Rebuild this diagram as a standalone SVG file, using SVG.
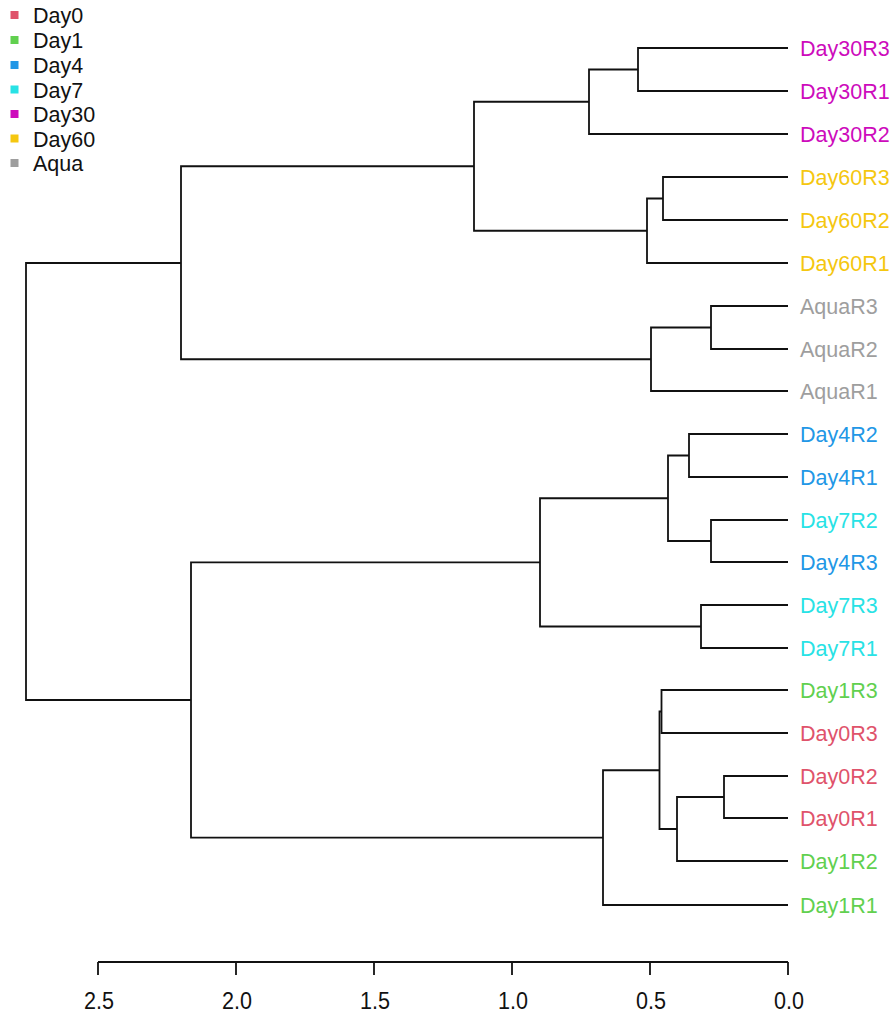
<svg xmlns="http://www.w3.org/2000/svg" width="893" height="1019" viewBox="0 0 893 1019">
<style>
.lbl{font-family:"Liberation Sans",Arial,sans-serif;font-size:21.5px}
.leg{font-family:"Liberation Sans",Arial,sans-serif;font-size:21.5px;fill:#111}
.ax{font-family:"Liberation Sans",Arial,sans-serif;font-size:24px;fill:#111;text-anchor:middle}
.br{fill:none;stroke:#111;stroke-width:1.8}
.d0{fill:#DF536B}.d1{fill:#61D04F}.d4{fill:#2297E6}.d7{fill:#28E2E5}.d30{fill:#CD0BBC}.d60{fill:#F5C710}.aq{fill:#9E9E9E}
</style>
<rect width="893" height="1019" fill="#fff"/>
<g id="legend">
<rect x="10.5" y="11" width="8" height="8" class="d0"/><text x="33" y="23" class="leg">Day0</text>
<rect x="10.5" y="36" width="8" height="8" class="d1"/><text x="33" y="48" class="leg">Day1</text>
<rect x="10.5" y="61" width="8" height="8" class="d4"/><text x="33" y="73" class="leg">Day4</text>
<rect x="10.5" y="85.5" width="8" height="8" class="d7"/><text x="33" y="97.5" class="leg">Day7</text>
<rect x="10.5" y="110" width="8" height="8" class="d30"/><text x="33" y="122" class="leg">Day30</text>
<rect x="10.5" y="134.5" width="8" height="8" class="d60"/><text x="33" y="146.5" class="leg">Day60</text>
<rect x="10.5" y="159" width="8" height="8" class="aq"/><text x="33" y="171" class="leg">Aqua</text>
</g>
<g id="connectors" class="br">
<path d="M788,48H638V91H788"/>
<path d="M638,69.5H589V134H788"/>
<path d="M788,177H663V220H788"/>
<path d="M663,198.5H647V263H788"/>
<path d="M589,101.75H474V230.75H647"/>
<path d="M788,306H711V349H788"/>
<path d="M711,327.5H651V391H788"/>
<path d="M474,166.25H181V359.25H651"/>
<path d="M788,434H689V477H788"/>
<path d="M788,520H711V562H788"/>
<path d="M689,455.5H668V541H711"/>
<path d="M788,605H701V648H788"/>
<path d="M668,498.25H540V626.5H701"/>
<path d="M788,690H661.5V733H788"/>
<path d="M788,776H724V818H788"/>
<path d="M724,797H677V861H788"/>
<path d="M661.5,711.5H659.5V829H677"/>
<path d="M659.5,770.25H603V905H788"/>
<path d="M540,562.4H191V837.6H603"/>
<path d="M181,263H26V700H191"/>
</g>
<g id="leaves">
<text x="800" y="56" class="lbl d30">Day30R3</text>
<text x="800" y="99" class="lbl d30">Day30R1</text>
<text x="800" y="142" class="lbl d30">Day30R2</text>
<text x="800" y="185" class="lbl d60">Day60R3</text>
<text x="800" y="228" class="lbl d60">Day60R2</text>
<text x="800" y="271" class="lbl d60">Day60R1</text>
<text x="800" y="314" class="lbl aq">AquaR3</text>
<text x="800" y="357" class="lbl aq">AquaR2</text>
<text x="800" y="399" class="lbl aq">AquaR1</text>
<text x="800" y="442" class="lbl d4">Day4R2</text>
<text x="800" y="485" class="lbl d4">Day4R1</text>
<text x="800" y="528" class="lbl d7">Day7R2</text>
<text x="800" y="570" class="lbl d4">Day4R3</text>
<text x="800" y="613" class="lbl d7">Day7R3</text>
<text x="800" y="656" class="lbl d7">Day7R1</text>
<text x="800" y="698" class="lbl d1">Day1R3</text>
<text x="800" y="741" class="lbl d0">Day0R3</text>
<text x="800" y="784" class="lbl d0">Day0R2</text>
<text x="800" y="826" class="lbl d0">Day0R1</text>
<text x="800" y="869" class="lbl d1">Day1R2</text>
<text x="800" y="913" class="lbl d1">Day1R1</text>
</g>
<g id="axis">
<path class="br" d="M98,962H788M98,962V975M236,962V975M374,962V975M512,962V975M650,962V975M788,962V975"/>
<text x="99" y="1009" class="ax" textLength="30" lengthAdjust="spacingAndGlyphs">2.5</text>
<text x="237" y="1009" class="ax" textLength="30" lengthAdjust="spacingAndGlyphs">2.0</text>
<text x="375" y="1009" class="ax" textLength="30" lengthAdjust="spacingAndGlyphs">1.5</text>
<text x="513" y="1009" class="ax" textLength="30" lengthAdjust="spacingAndGlyphs">1.0</text>
<text x="651" y="1009" class="ax" textLength="30" lengthAdjust="spacingAndGlyphs">0.5</text>
<text x="789" y="1009" class="ax" textLength="30" lengthAdjust="spacingAndGlyphs">0.0</text>
</g>
</svg>
